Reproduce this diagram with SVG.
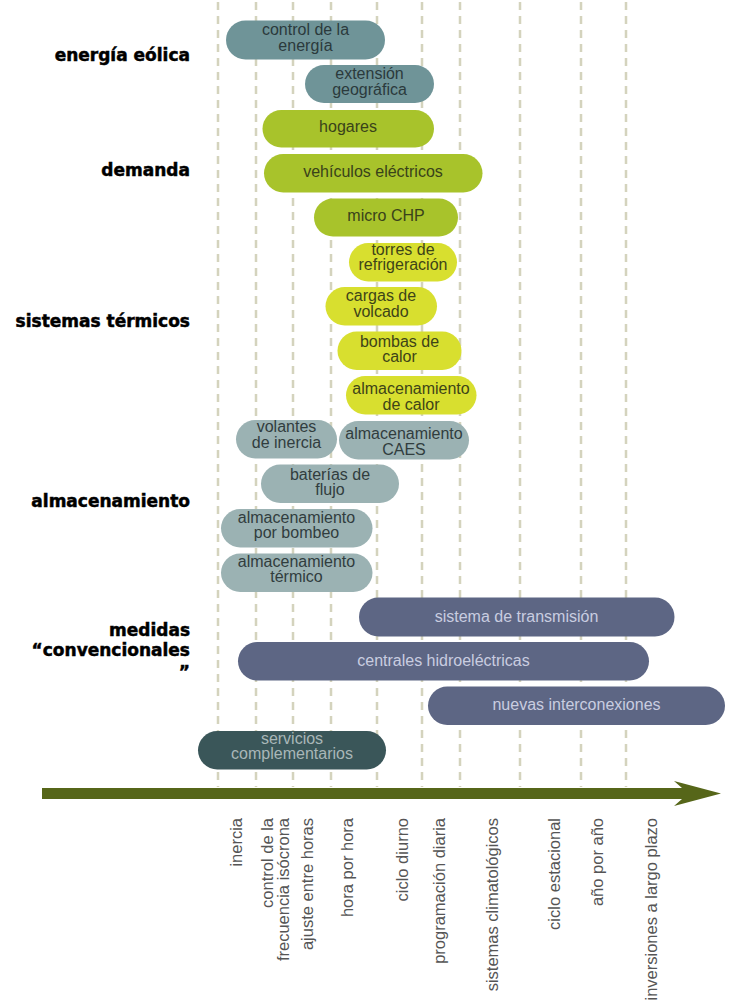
<svg xmlns="http://www.w3.org/2000/svg" width="730" height="1000" viewBox="0 0 730 1000">
<style>
.grid line{stroke:#d4d3bd;stroke-width:2.5;stroke-dasharray:8 6}
.pt{font-family:"Liberation Sans",Arial,sans-serif;font-size:16px;text-anchor:middle}
.cat{font-family:"DejaVu Sans",sans-serif;font-weight:bold;font-size:17px;text-anchor:end;fill:#000;stroke:#000;stroke-width:0.5}
.ax{font-family:"Liberation Sans",Arial,sans-serif;font-size:16.5px;text-anchor:end;fill:#555}
.teal rect{fill:#6f9498}.teal text{fill:#2b3a3c}
.grn rect{fill:#a8c32b}.grn text{fill:#39421a}
.yel rect{fill:#d8df2f}.yel text{fill:#3e4418}
.sto rect{fill:#9bb2b3}.sto text{fill:#313d3e}
.med rect{fill:#5d6684}.med text{fill:#c9cde0}
.srv rect{fill:#3a5659}.srv text{fill:#a9b7b8}
</style>
<rect width="730" height="1000" fill="#fff"/>
<g class="grid" id="grid">
<line x1="218" y1="2" x2="218" y2="787"/>
<line x1="256" y1="2" x2="256" y2="787"/>
<line x1="293" y1="2" x2="293" y2="787"/>
<line x1="331" y1="2" x2="331" y2="787"/>
<line x1="377" y1="2" x2="377" y2="787"/>
<line x1="422" y1="2" x2="422" y2="787"/>
<line x1="460" y1="2" x2="460" y2="787"/>
<line x1="520" y1="2" x2="520" y2="787"/>
<line x1="581" y1="2" x2="581" y2="787"/>
<line x1="626" y1="2" x2="626" y2="787"/>
</g>
<g id="categories">
<text class="cat" x="190" y="61">energía eólica</text>
<text class="cat" x="190" y="176">demanda</text>
<text class="cat" x="190" y="327">sistemas térmicos</text>
<text class="cat" x="190" y="507">almacenamiento</text>
<text class="cat" x="190" y="636">medidas</text>
<text class="cat" x="190" y="656">“convencionales</text>
<text class="cat" x="190" y="678">”</text>
</g>
<g id="n1" class="teal"><rect x="226" y="20.5" width="159" height="39" rx="19.5"/><text class="pt" x="305.5" y="35">control de la</text><text class="pt" x="305.5" y="51">energía</text></g>
<g id="n2" class="teal"><rect x="305" y="65" width="129" height="38" rx="19"/><text class="pt" x="369.5" y="79">extensión</text><text class="pt" x="369.5" y="94.5">geográfica</text></g>
<g id="n3" class="grn"><rect x="262.5" y="110" width="171.5" height="37.5" rx="18.75"/><text class="pt" x="348" y="132">hogares</text></g>
<g id="n4" class="grn"><rect x="264" y="154" width="218.5" height="38.5" rx="19.25"/><text class="pt" x="373" y="176.5">vehículos eléctricos</text></g>
<g id="n5" class="grn"><rect x="314" y="198.5" width="144" height="38" rx="19"/><text class="pt" x="386" y="221">micro CHP</text></g>
<g id="n6" class="yel"><rect x="349" y="243" width="108" height="38.5" rx="19.25"/><text class="pt" x="403" y="254.5">torres de</text><text class="pt" x="403" y="270">refrigeración</text></g>
<g id="n7" class="yel"><rect x="325.5" y="287" width="111.5" height="38.5" rx="19.25"/><text class="pt" x="381" y="300.5">cargas de</text><text class="pt" x="381" y="316.5">volcado</text></g>
<g id="n8" class="yel"><rect x="337.5" y="331.5" width="124" height="38.5" rx="19.25"/><text class="pt" x="399.5" y="346.5">bombas de</text><text class="pt" x="399.5" y="362">calor</text></g>
<g id="n9" class="yel"><rect x="346" y="376" width="130.5" height="38.5" rx="19.25"/><text class="pt" x="411" y="393.5">almacenamiento</text><text class="pt" x="411" y="409.5">de calor</text></g>
<g id="n10" class="sto"><rect x="236" y="420" width="101" height="38.5" rx="19.25"/><text class="pt" x="286.5" y="431.5">volantes</text><text class="pt" x="286.5" y="447.5">de inercia</text></g>
<g id="n11" class="sto"><rect x="339" y="421" width="130" height="38.5" rx="19.25"/><text class="pt" x="404" y="439">almacenamiento</text><text class="pt" x="404" y="455">CAES</text></g>
<g id="n12" class="sto"><rect x="261" y="464.5" width="138" height="38.5" rx="19.25"/><text class="pt" x="330" y="479.5">baterías de</text><text class="pt" x="330" y="495">flujo</text></g>
<g id="n13" class="sto"><rect x="221" y="509" width="151.5" height="38.5" rx="19.25"/><text class="pt" x="296.5" y="522.5">almacenamiento</text><text class="pt" x="296.5" y="538">por bombeo</text></g>
<g id="n14" class="sto"><rect x="221" y="553.5" width="151.5" height="38.5" rx="19.25"/><text class="pt" x="296.5" y="567">almacenamiento</text><text class="pt" x="296.5" y="582">térmico</text></g>
<g id="n15" class="med"><rect x="359" y="597.5" width="315.5" height="39" rx="19.5"/><text class="pt" x="516.5" y="621.5">sistema de transmisión</text></g>
<g id="n16" class="med"><rect x="238" y="642" width="411" height="38.5" rx="19.25"/><text class="pt" x="443.5" y="666">centrales hidroeléctricas</text></g>
<g id="n17" class="med"><rect x="428" y="686.5" width="297" height="38.5" rx="19.25"/><text class="pt" x="576.5" y="709.5">nuevas interconexiones</text></g>
<g id="n18" class="srv"><rect x="198" y="731" width="188" height="38.5" rx="19.25"/><text class="pt" x="292" y="743.5">servicios</text><text class="pt" x="292" y="759">complementarios</text></g>
<g id="connectors">
<polygon fill="#566619" points="42,788 682,788 674,781 721,793.5 674,806 682,799 42,799"/>
</g>
<g id="axis-labels">
<text class="ax" transform="translate(242,818) rotate(-90)">inercia</text>
<text class="ax" transform="translate(272.5,818) rotate(-90)">control de la</text>
<text class="ax" transform="translate(288.5,818) rotate(-90)">frecuencia isócrona</text>
<text class="ax" transform="translate(313,818) rotate(-90)">ajuste entre horas</text>
<text class="ax" transform="translate(353,818) rotate(-90)">hora por hora</text>
<text class="ax" transform="translate(408,818) rotate(-90)">ciclo diurno</text>
<text class="ax" transform="translate(445,818) rotate(-90)">programación diaria</text>
<text class="ax" transform="translate(498,818) rotate(-90)">sistemas climatológicos</text>
<text class="ax" transform="translate(559.5,818) rotate(-90)">ciclo estacional</text>
<text class="ax" transform="translate(603,818) rotate(-90)">año por año</text>
<text class="ax" transform="translate(656.5,818) rotate(-90)">inversiones a largo plazo</text>
</g>
</svg>
